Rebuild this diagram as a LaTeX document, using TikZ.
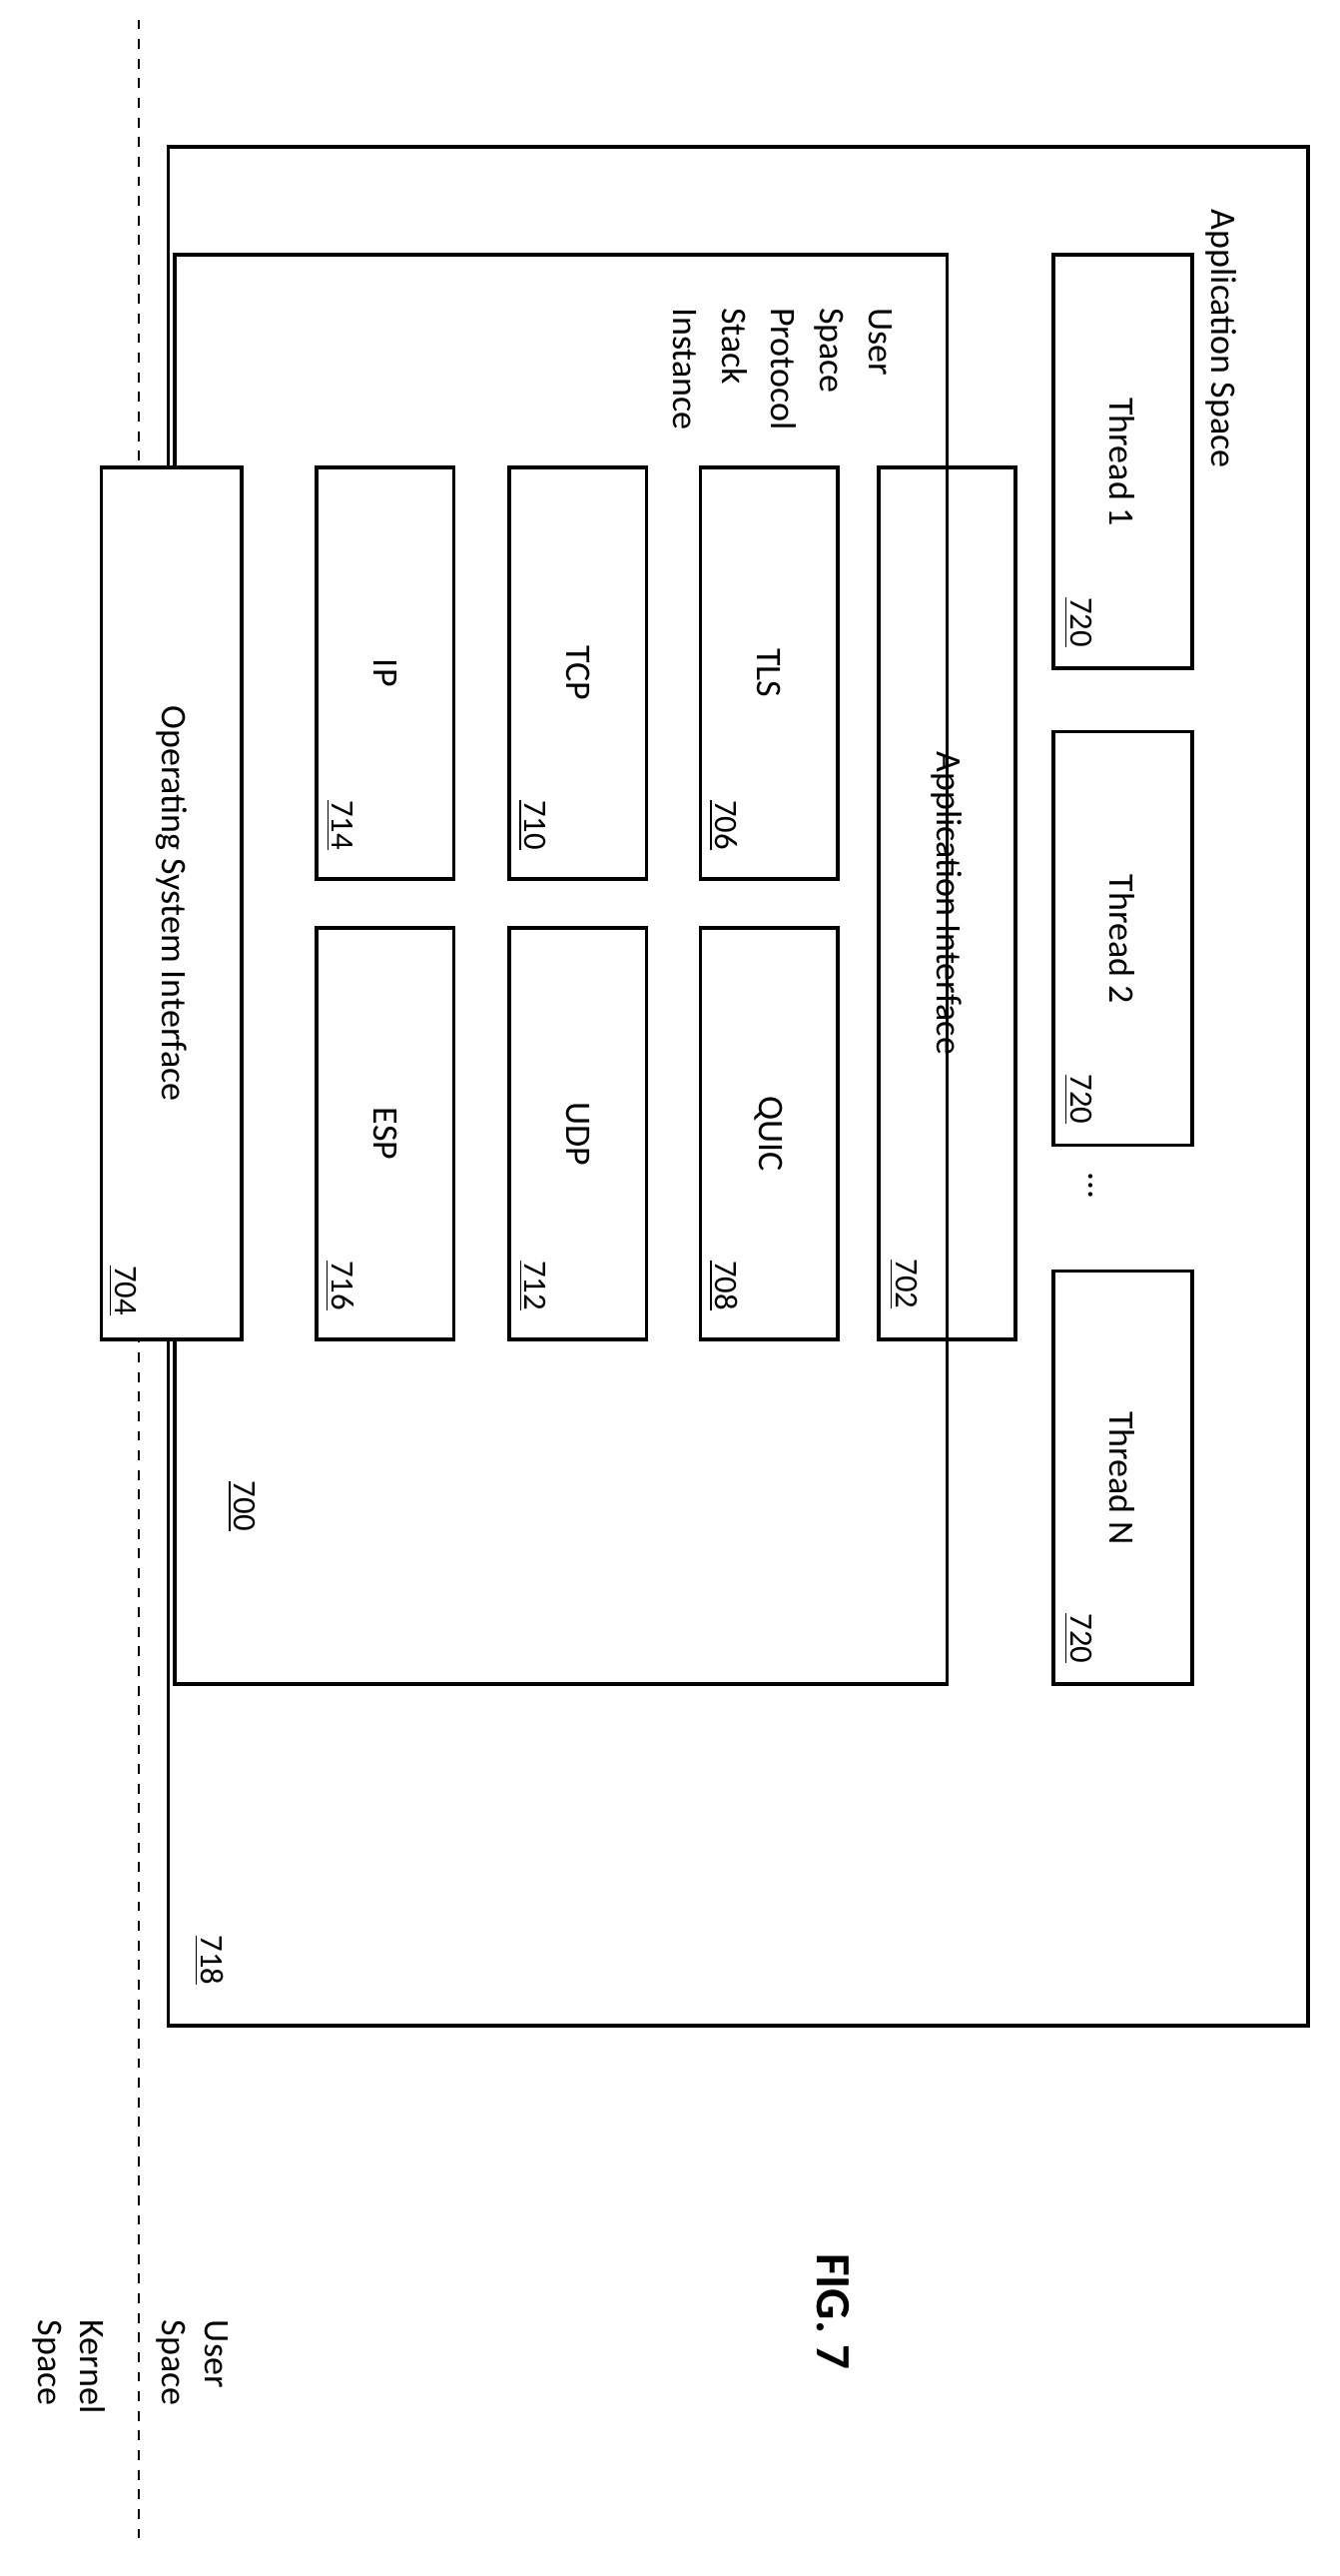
\documentclass[tikz,border=0pt]{standalone}
\usepackage{fontspec}
\setmainfont{Carlito}
\begin{document}
\begin{tikzpicture}[x=0.5pt,y=-0.5pt,
  box/.style={draw, line width=1.1pt},
  txt/.style={rotate=-90, font=\fontsize{11}{13}\selectfont, inner sep=0pt},
  num/.style={rotate=-90, font=\fontsize{10}{12}\selectfont, inner sep=0pt}]
\useasboundingbox (0,0) rectangle (820,1577);
% user/kernel boundary
\draw[dashed, line width=0.6pt] (85,12) -- (85,1555);
% application space
\draw[box] (103,90) rectangle (801,1240);
\node[txt, anchor=west] (appspace) at (748,128) {Application Space};
\node[num] (n718) at (128,1200) {\underline{718}};
% threads
\foreach \y/\t in {156/1, 448/2, 778/N}{
  \draw[box] (645,\y) rectangle (730,\y+253);
  \node[txt] (thread\t) at (687,\y+127) {Thread \t};
  \node[num] (n720\t) at (660,\y+225) {\underline{720}};
}
\node[txt] (dots) at (668,726) {...};
% protocol stack instance
\draw[box] (107,156) rectangle (580,1031);
\node[txt, anchor=north west, align=left, font=\fontsize{11}{15}\selectfont] (stack) at (547,188) {User\\Space\\Protocol\\Stack\\Instance};
\node[num] (n700) at (148,922) {\underline{700}};
\draw[box] (538,286) rectangle (622,820);
\node[txt] (appif) at (580,553) {Application Interface};
\node[num] (n702) at (553,786) {\underline{702}};
\foreach \x/\a/\na/\b/\nb in {429/TLS/706/QUIC/708, 312/TCP/710/UDP/712, 194/IP/714/ESP/716}{
  \draw[box] (\x,286) rectangle (\x+84,538);
  \node[txt] (p\a) at (\x+42,412) {\a};
  \node[num] (n\na) at (\x+14,505) {\underline{\na}};
  \draw[box] (\x,568) rectangle (\x+84,820);
  \node[txt] (p\b) at (\x+42,694) {\b};
  \node[num] (n\nb) at (\x+14,787) {\underline{\nb}};
}
\draw[box, fill=white] (62,286) rectangle (148,820);
\node[txt] (osif) at (105,553) {Operating System Interface};
\node[num] (n704) at (75,790) {\underline{704}};
% figure label and space captions
\node[rotate=-90, font=\fontsize{15}{17}\selectfont\bfseries] (fig) at (510,1415) {FIG. 7};
\node[txt, align=left, anchor=north west] (user) at (140,1420) {User\\Space};
\node[txt, align=left, anchor=north west] (kernel) at (65,1420) {Kernel\\Space};
\end{tikzpicture}
\end{document}
